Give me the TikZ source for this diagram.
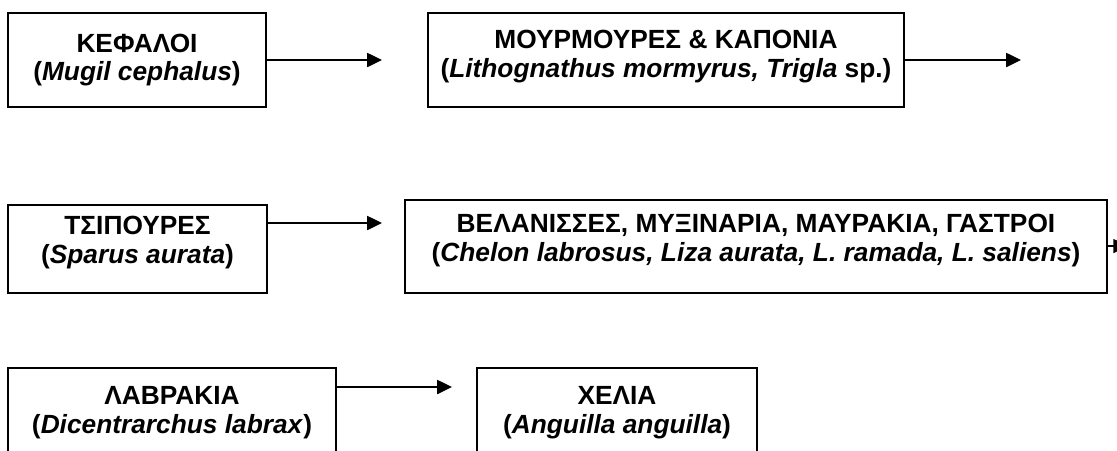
\documentclass[tikz,border=0pt]{standalone}
\usepackage{fontspec}
\setmainfont{Liberation Sans}
\usetikzlibrary{arrows.meta,positioning,calc}
\definecolor{FishInk}{RGB}{0,0,0}
\tikzset{
  fish/box/.style={
    draw=FishInk,
    line width=1.5pt,
    fill=white,
    align=center,
    text=FishInk,
    inner sep=0pt,
    font=\bfseries\fontsize{18.7}{20.5}\selectfont
  },
  fish/arrow/.style={-{Triangle[length=10.5pt,width=10pt]}, line width=1.1pt, draw=FishInk}
}

\begin{document}
\begin{tikzpicture}[x=0.025cm,y=-0.025cm]
  \useasboundingbox (0,0) rectangle (1117,450);
  \clip (0,0) rectangle (1117,450);
  \node[fish/box,minimum width=6.45cm,minimum height=2.35cm] (kefaloi) at (137,60) {ΚΕΦΑΛΟΙ\\(\textit{Mugil cephalus})};
  \node[fish/box,minimum width=11.9cm,minimum height=2.35cm,text depth=0.3cm] (mourm) at (666,60) {ΜΟΥΡΜΟΥΡΕΣ \& ΚΑΠΟΝΙΑ\\(\textit{Lithognathus mormyrus, Trigla} sp.)};
  \node[fish/box,minimum width=6.47cm,minimum height=2.2cm,text depth=0.48cm] (tsip) at (137.5,249) {ΤΣΙΠΟΥΡΕΣ\\(\textit{Sparus aurata})};
  \node[fish/box,minimum width=17.55cm,minimum height=2.32cm,text depth=0.42cm] (velan) at (756,246.5) {ΒΕΛΑΝΙΣΣΕΣ, ΜΥΞΙΝΑΡΙΑ, ΜΑΥΡΑΚΙΑ, ΓΑΣΤΡΟΙ\\(\textit{Chelon labrosus, Liza aurata, L. ramada, L. saliens})};
  \node[fish/box,minimum width=8.2cm,minimum height=2.25cm] (lavr) at (172,413) {ΛΑΒΡΑΚΙΑ\\(\textit{Dicentrarchus labrax})};
  \node[fish/box,minimum width=7cm,minimum height=2.25cm] (xelia) at (617,413) {ΧΕΛΙΑ\\(\textit{Anguilla anguilla})};
  \coordinate (kefaloi-to) at (382,60);
  \coordinate (mourm-to) at (1021,60);
  \coordinate (tsip-to) at (382,223);
  \coordinate (velan-to) at (1128,246);
  \coordinate (lavr-to) at (452,387);
  \draw[fish/arrow] (kefaloi.east |- kefaloi-to) -- (kefaloi-to);
  \draw[fish/arrow] (mourm.east |- mourm-to) -- (mourm-to);
  \draw[fish/arrow] (tsip.east |- tsip-to) -- (tsip-to);
  \draw[fish/arrow] (velan.east |- velan-to) -- (velan-to);
  \draw[fish/arrow] (lavr.east |- lavr-to) -- (lavr-to);
\end{tikzpicture}
\end{document}
